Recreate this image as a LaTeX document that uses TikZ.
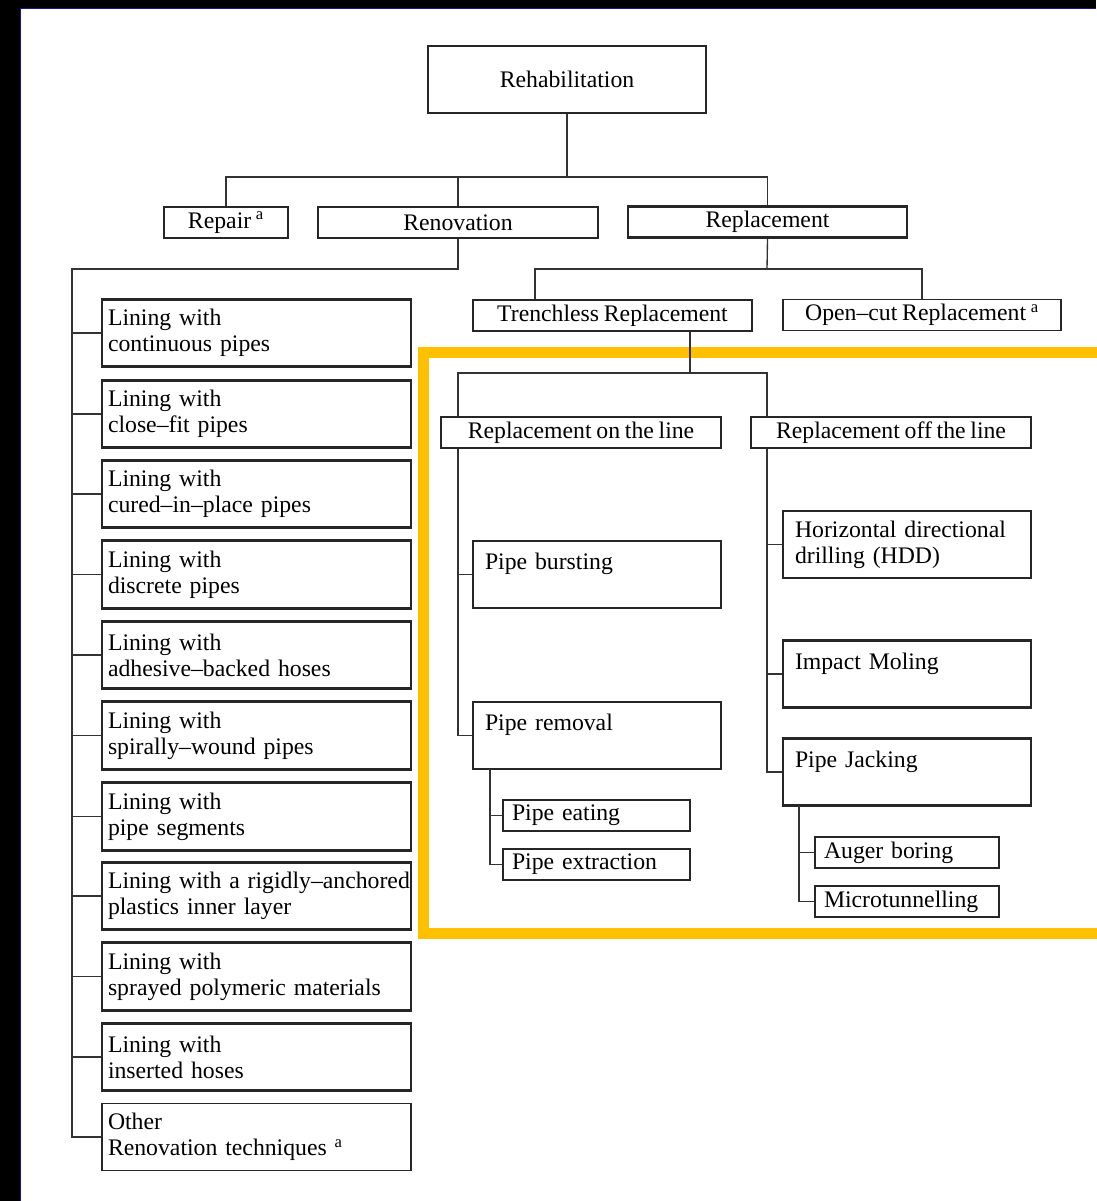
\documentclass[tikz,border=0pt]{standalone}
\usepackage{fontspec}
\setmainfont{Liberation Serif}[WordSpace=0.8]
\definecolor{frameyellow}{RGB}{255,192,0}
\definecolor{edgeblue}{RGB}{20,20,170}
\tikzset{every picture/.style={line width=0.75pt}}
\tikzset{
  box/.style={draw=black!85, line width=1pt, inner sep=0pt, font=\fontsize{17.8}{19.5}\selectfont},
  thickbox/.style={box, line width=2pt},
  smallbox/.style={minimum height=23.25pt},
  leftbox/.style={thickbox, minimum height=50.6pt, text width=222.75pt, inner xsep=4.5pt, align=left},
  tallbox/.style={thickbox, minimum height=50.25pt, text width=168pt, inner xsep=9pt, align=left},
  wire/.style={draw=black!80, line width=1pt},
}

\begin{document}
\begin{tikzpicture}[x=0.75pt,y=0.75pt,yscale=-1,xscale=1]
\useasboundingbox (0,0) rectangle (1096,1201);

%Screen edges
\fill[black] (0,0) rectangle (20,1201);
\fill[black] (0,0) rectangle (1096,8);
\draw[edgeblue, line width=1.2pt] (20.5,1201) -- (20.5,8.5) -- (1096,8.5);

%Highlight frame
\draw[frameyellow, line width=8.25pt] (423.5,353) rectangle (1102,933.5);

% Top level
\node[thickbox, minimum width=208.5pt, minimum height=50.25pt] (rehab) at (567,79.5) {Rehabilitation};

% Second level
\node[box, smallbox, minimum width=93pt] (repair) at (226,222.5) {Repair~\textsuperscript{a}};
\node[thickbox, smallbox, minimum width=210pt] (renov) at (458,222.5) {Renovation};
\node[thickbox, smallbox, minimum width=209.25pt] (repl) at (767.5,222) {Replacement};

% Renovation techniques
\node[leftbox] (lin1) at (256.5,333) {Lining with\\continuous pipes};
\node[leftbox] (lin2) at (256.5,414) {Lining with\\close–fit pipes};
\node[leftbox] (lin3) at (256.5,494) {Lining with\\cured–in–place pipes};
\node[leftbox] (lin4) at (256.5,574.5) {Lining with\\discrete pipes};
\node[leftbox] (lin5) at (256.5,655) {Lining with\\adhesive–backed hoses};
\node[leftbox] (lin6) at (256.5,735.5) {Lining with\\spirally–wound pipes};
\node[leftbox] (lin7) at (256.5,816.5) {Lining with\\pipe segments};
\node[leftbox] (lin8) at (256.5,896) {\mbox{Lining with a rigidly–anchored}\\plastics inner layer};
\node[leftbox] (lin9) at (256.5,976.5) {Lining with\\sprayed polymeric materials};
\node[leftbox] (lin10) at (256.5,1057) {Lining with\\inserted hoses};
\node[leftbox, line width=1pt] (other) at (256.5,1137) {Other\\Renovation techniques~\textsuperscript{a}};

% Replacement branch
\node[thickbox, smallbox, minimum width=209.25pt] (trench) at (612.5,315.5) {Trenchless Replacement};
\node[box, smallbox, minimum width=208.5pt] (opencut) at (922,315) {Open–cut Replacement~\textsuperscript{a}};
\node[thickbox, smallbox, minimum width=210pt] (online) at (581,432.5) {Replacement on the line};
\node[thickbox, smallbox, minimum width=210pt] (offline) at (891,432.5) {Replacement off the line};

% On the line
\node[tallbox] (burst) at (597,574.5) {Pipe bursting\\ \mbox{}};
\node[tallbox] (removal) at (597,735.5) {Pipe removal\\ \mbox{}};
\node[box, smallbox, minimum width=140.25pt, text width=126.75pt, inner xsep=6.75pt, align=left] (eating) at (596.5,815.5) {Pipe eating};
\node[box, smallbox, minimum width=140.25pt, text width=126.75pt, inner xsep=6.75pt, align=left] (extract) at (596.5,864.5) {Pipe extraction};

% Off the line
\node[tallbox] (hdd) at (907,544.5) {Horizontal directional\\drilling (HDD)};
\node[tallbox] (moling) at (907,674) {Impact Moling\\ \mbox{}};
\node[tallbox] (jacking) at (907,772) {Pipe Jacking\\ \mbox{}};
\node[box, smallbox, minimum width=138pt, text width=124.5pt, inner xsep=6.75pt, align=left] (auger) at (907,852.5) {Auger boring};
\node[box, smallbox, minimum width=138pt, text width=124.5pt, inner xsep=6.75pt, align=left] (micro) at (907,901.5) {Microtunnelling};

%Junctions
\coordinate (j1) at (567,177);
\coordinate (j2) at (72,269);
\coordinate (j3) at (767,269);
\coordinate (j3a) at (535,269);
\coordinate (j4) at (690,373);
\coordinate (j5) at (458,373);
\coordinate (j6) at (767,373);
\coordinate (j7) at (490,769);
\coordinate (j8) at (799,806);

%Straight Lines
\draw[wire] (rehab.south) -- (j1);
\draw[wire] (repair.north) |- (j1) -| (repl.north);
\draw[wire] (renov.north) -- (renov.north |- j1);

%Straight Lines
\draw[wire] (renov.south) |- (j2) |- (other.west);
\foreach \n in {lin1,lin2,lin3,lin4,lin5,lin6,lin7,lin8,lin9,lin10}
  \draw[wire] (j2 |- \n.west) -- (\n.west);

%Straight Lines
\draw[wire] (repl.south) -- (j3);
\draw[wire] (trench.north -| j3a) -- (j3a) -| (opencut.north);

%Straight Lines
\draw[wire] (trench.south -| j4) -- (j4);
\draw[wire] (online.north -| j5) -- (j5) -- (j6) -- (offline.north -| j6);

%Straight Lines
\draw[wire] (online.south -| j5) |- (removal.west);
\draw[wire] (j5 |- burst.west) -- (burst.west);
\draw[wire] (j7) |- (extract.west);
\draw[wire] (j7 |- eating.west) -- (eating.west);

%Straight Lines
\draw[wire] (offline.south -| j6) |- (jacking.west);
\draw[wire] (j6 |- hdd.west) -- (hdd.west);
\draw[wire] (j6 |- moling.west) -- (moling.west);
\draw[wire] (j8) |- (micro.west);
\draw[wire] (j8 |- auger.west) -- (auger.west);

\end{tikzpicture}
\end{document}
